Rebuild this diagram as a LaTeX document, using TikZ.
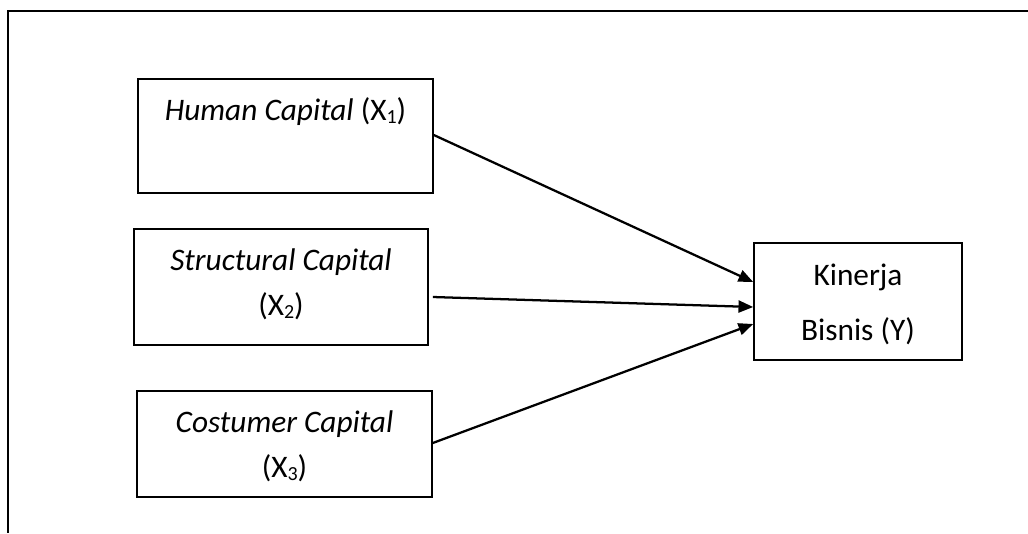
\documentclass[tikz,border=0pt]{standalone}
\usepackage{fontspec}
\setmainfont{Carlito}
\usetikzlibrary{arrows.meta,calc}
\newcommand{\subx}[1]{\raisebox{-0.25ex}{\fontsize{15}{18}\selectfont #1}}
\tikzset{
  box/.style={draw=black, line width=1.2pt, minimum width=#1, inner sep=0pt},
  lbl/.style={anchor=base, inner sep=0pt, font=\fontsize{23.5}{28}\selectfont},
  arr/.style={line width=1.7pt, -{Triangle[length=11pt,width=9pt]}},
  frame/.style={line width=1.6pt}
}
\begin{document}
\begin{tikzpicture}[x=0.75pt,y=-0.75pt]
\useasboundingbox (0,0) rectangle (1028,533);
% outer frame
\coordinate (ftl) at (8,11);
\coordinate (ftr) at (1028,11);
\coordinate (fbl) at (8,533);
\draw[frame] (ftr) -- (ftl) -- (fbl);
% boxes
\node[box=221.25pt, minimum height=85.5pt] (b1) at (285.5,136) {};
\node[box=220.5pt, minimum height=87pt] (b2) at (281,287) {};
\node[box=221.25pt, minimum height=79.5pt] (b3) at (284.5,444) {};
\node[box=156pt, minimum height=87.75pt] (by) at (858,301.5) {};
% labels
\node[lbl] (t1) at (285.5,120) {\textit{Human Capital} (X\subx{1})};
\node[lbl] (t2a) at (281,270) {\textit{Structural Capital}};
\node[lbl] (t2b) at (281,315) {(X\subx{2})};
\node[lbl] (t3a) at (284.5,432) {\textit{Costumer Capital}};
\node[lbl] (t3b) at (284.5,477) {(X\subx{3})};
\node[lbl] (tya) at (858,285) {Kinerja};
\node[lbl] (tyb) at (858,340) {Bisnis (Y)};
% arrows
\draw[arr] ($(b1.east)+(0,-1)$) -- ($(by.west)+(0,-19.5)$);
\draw[arr] ($(b2.east)+(4,10)$) -- ($(by.west)+(0,5.5)$);
\draw[arr] ($(b3.east)+(0,-1)$) -- ($(by.west)+(0,22.5)$);
\end{tikzpicture}
\end{document}
